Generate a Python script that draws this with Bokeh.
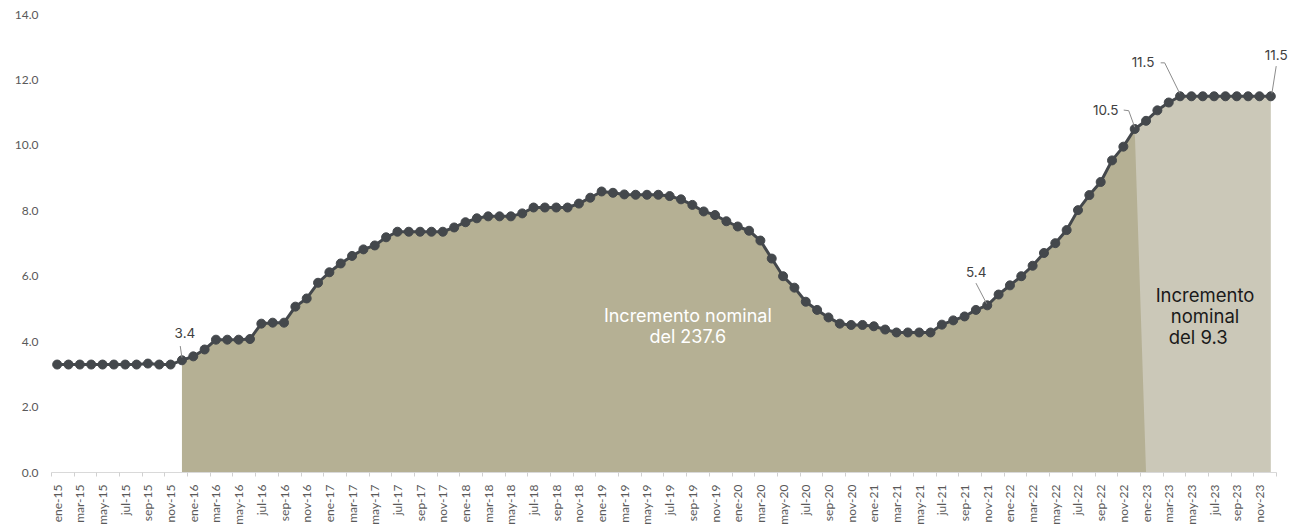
import math
from bokeh.plotting import figure
from bokeh.models import FixedTicker, Label, Range1d
from bokeh.embed import file_html
from bokeh.resources import INLINE

# ---------------- data ----------------
months = ["ene", "feb", "mar", "abr", "may", "jun", "jul", "ago", "sep", "oct", "nov", "dic"]
years = ["15", "16", "17", "18", "19", "20", "21", "22", "23"]
month_labels = [f"{m}-{y}" for y in years for m in months]

values_2015 = [3.30, 3.30, 3.30, 3.30, 3.30, 3.30, 3.30, 3.30, 3.33, 3.30, 3.30, 3.43]
values_2016 = [3.55, 3.76, 4.06, 4.06, 4.06, 4.08, 4.55, 4.58, 4.58, 5.07, 5.32, 5.80]
values_2017 = [6.12, 6.39, 6.62, 6.82, 6.94, 7.19, 7.36, 7.36, 7.36, 7.36, 7.36, 7.49]
values_2018 = [7.65, 7.77, 7.83, 7.83, 7.83, 7.92, 8.10, 8.10, 8.10, 8.10, 8.22, 8.40]
values_2019 = [8.59, 8.55, 8.50, 8.49, 8.49, 8.49, 8.45, 8.35, 8.18, 7.98, 7.87, 7.68]
values_2020 = [7.52, 7.39, 7.09, 6.54, 6.00, 5.65, 5.22, 4.97, 4.74, 4.55, 4.51, 4.51]
values_2021 = [4.47, 4.37, 4.28, 4.28, 4.28, 4.28, 4.52, 4.65, 4.77, 4.97, 5.11, 5.44]
values_2022 = [5.72, 6.00, 6.32, 6.71, 7.01, 7.41, 8.02, 8.48, 8.88, 9.54, 9.96, 10.50]
values_2023 = [10.75, 11.07, 11.31, 11.50, 11.50, 11.50, 11.50, 11.50, 11.50, 11.50, 11.50, 11.50]

salary = (values_2015 + values_2016 + values_2017 + values_2018 + values_2019
          + values_2020 + values_2021 + values_2022 + values_2023)

first_period_start = "dic-15"
first_period_end = "dic-22"
second_period_end = "dic-23"

y_ticks = [0, 2, 4, 6, 8, 10, 12, 14]

# label annotations: (month, text, dx_px, dy_px, leader path in px offsets)
point_labels = [
    ("dic-15", "3.4", 3, 27, [(-1.7, 14.3), (0, 2.7)]),
    ("nov-21", "5.4", -11, 33, [(-11.3, 22.3), (-0.6, 1.7)]),
    ("dic-22", "10.5", -29, 19, [(-11, 19), (-6, 18.4), (0, 1.8)]),
    ("abr-23", "11.5", -37, 34, [(-19.4, 33.6), (-15.4, 33.6), (-0.4, 3)]),
    ("dic-23", "11.5", 5.4, 41, [(5.4, 30.3), (1.1, 3)]),
]

# ---------------- figure ----------------
N = len(salary)
idx = list(range(N))
W, H = 1297, 527
BL, BR, BT, BB = 51, 4, 14, 53
x0, x1 = -0.5, N + 1.0
y0, y1 = 0, 14
sx = (W - BL - BR) / (x1 - x0)
sy = (H - BT - BB) / (y1 - y0)

p = figure(width=W, height=H, output_backend="svg", toolbar_location=None,
           x_range=Range1d(x0, x1), y_range=Range1d(y0, y1),
           min_border_left=BL, min_border_right=BR, min_border_top=BT, min_border_bottom=BB)
p.outline_line_color = None
p.xgrid.grid_line_color = None
p.ygrid.grid_line_color = None
p.background_fill_color = "white"

AXIS_FONT = "Lato"
LABEL_FONT = "Inter"

# y axis
p.yaxis.ticker = FixedTicker(ticks=y_ticks)
p.yaxis.major_label_overrides = {t: f"{t:.1f}" for t in y_ticks}
p.yaxis.axis_line_color = None
p.yaxis.major_tick_line_color = None
p.yaxis.minor_tick_line_color = None
p.yaxis.major_tick_out = 0
p.yaxis.major_label_standoff = 13
p.yaxis.major_label_text_font = AXIS_FONT
p.yaxis.major_label_text_font_size = "12px"
p.yaxis.major_label_text_color = "#595959"

# x axis
major = list(range(0, N, 2))
minor = [m - 0.5 for m in range(0, N + 1, 2)]
p.xaxis.ticker = FixedTicker(ticks=major, minor_ticks=minor)
p.xaxis.bounds = (-0.5, N - 0.5)
p.xaxis.major_label_overrides = {i: month_labels[i] for i in major}
p.xaxis.major_label_orientation = math.pi / 2
p.xaxis.major_tick_line_color = None
p.xaxis.major_tick_out = 0
p.xaxis.major_tick_in = 0
p.xaxis.minor_tick_line_color = "#d0d0d0"
p.xaxis.minor_tick_out = 4
p.xaxis.minor_tick_in = 0
p.xaxis.axis_line_color = "#d9d9d9"
p.xaxis.axis_line_width = 1
p.xaxis.major_label_standoff = 8
p.xaxis.major_label_text_font = AXIS_FONT
p.xaxis.major_label_text_font_size = "12px"
p.xaxis.major_label_text_color = "#595959"

# areas
a = month_labels.index(first_period_start)
b = month_labels.index(first_period_end)
c = month_labels.index(second_period_end)

p.varea(x=idx[b:c + 1], y1=0, y2=salary[b:c + 1], fill_color="#cbc8b8")
olive_x = [a] + idx[a:b + 1] + [b + 1]
olive_y = [0] + salary[a:b + 1] + [0]
p.patch(olive_x, olive_y, fill_color="#b5b094", line_color=None)

# line + markers
p.line(idx, salary, line_color="#44484c", line_width=3)
p.scatter(idx, salary, size=9, fill_color="#44484c", line_color="#44484c")

# point labels with leader lines
for month, txt, dx, dy, path in point_labels:
    i = month_labels.index(month)
    v = salary[i]
    xs = [i + px / sx for px, py in path]
    ys = [v + py / sy for px, py in path]
    p.line(xs, ys, line_color="#8c8c8c", line_width=1)
    p.add_layout(Label(x=i, y=v, x_offset=dx, y_offset=dy, text=txt,
                       text_align="center", text_baseline="middle",
                       text_font=LABEL_FONT, text_font_size="13.5px",
                       text_color="#404040"))

# period annotations
mid1 = (a + b) / 2 + 2.6
p.add_layout(Label(x=mid1, y=4.81, text="Incremento nominal", text_align="center",
                   text_baseline="middle", text_font=LABEL_FONT, text_font_size="18px",
                   text_color="white"))
p.add_layout(Label(x=mid1, y=4.17, text="del 237.6", text_align="center",
                   text_baseline="middle", text_font=LABEL_FONT, text_font_size="18px",
                   text_color="white"))

mid2 = (b + c) / 2 + 0.2
for k, (txt, yy) in enumerate([("Incremento", 5.44), ("nominal", 4.78), ("del 9.3", 4.13)]):
    xx = mid2 - (0.6 if k == 2 else 0)
    p.add_layout(Label(x=xx, y=yy, text=txt, text_align="center",
                       text_baseline="middle", text_font=LABEL_FONT, text_font_size="18.5px",
                       text_color="#1a1a1a"))

open("out.html", "w").write(file_html(p, INLINE))
